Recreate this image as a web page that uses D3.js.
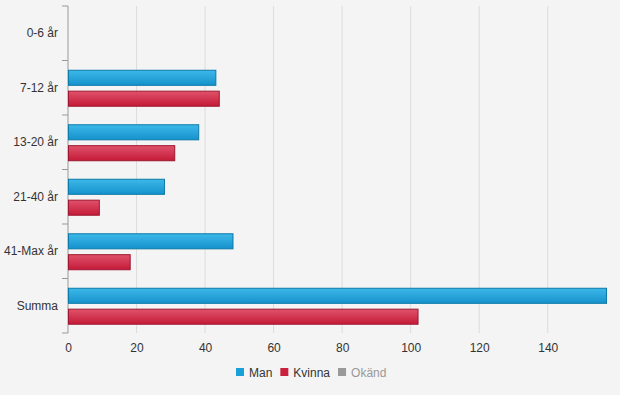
<!DOCTYPE html>
<html>
<head>
<meta charset="utf-8">
<script src="https://cdn.jsdelivr.net/npm/d3@7"></script>
<style>
  body { margin: 0; background: #f4f4f4; }
  svg { display: block; font-family: "Liberation Sans", Arial, sans-serif; }
</style>
</head>
<body>
<div id="chart"></div>
<script>
// chart data
const categories = ['0-6 år', '7-12 år', '13-20 år', '21-40 år', '41-Max år', 'Summa'];
const man = [0, 43, 38, 28, 48, 157];
const kvinna = [0, 44, 31, 9, 18, 102];
const xTicks = [0, 20, 40, 60, 80, 100, 120, 140];
const legendItems = ['Man', 'Kvinna', 'Okänd'];

const W = 620, H = 395;
const margin = {top: 6, right: 14, bottom: 62, left: 68};
const width = W - margin.left - margin.right;
const height = H - margin.top - margin.bottom;

const svg = d3.select('#chart').append('svg')
    .attr('width', W)
    .attr('height', H);

svg.append('rect').attr('width', W).attr('height', H).attr('fill', '#f4f4f4');

const defs = svg.append('defs');
function grad(id, top, bottom) {
    const lg = defs.append('linearGradient').attr('id', id)
        .attr('x1', 0).attr('y1', 0).attr('x2', 0).attr('y2', 1);
    lg.append('stop').attr('offset', '0%').attr('stop-color', top);
    lg.append('stop').attr('offset', '100%').attr('stop-color', bottom);
}
grad('gMan', '#3db8ea', '#1592cc');
grad('gKvinna', '#e0526b', '#c41a38');

const g = svg.append('g').attr('transform', `translate(${margin.left},${margin.top})`);

const x = d3.scaleLinear().domain([0, 157]).range([0, width]);
const y = d3.scaleBand().domain(categories).range([0, height]).paddingInner(0.34).paddingOuter(0.17);
const sub = d3.scaleBand().domain(['man', 'kvinna']).range([0, y.bandwidth()]).paddingInner(0.28);

// grid
g.append('g').selectAll('line').data(xTicks.slice(1)).enter().append('line')
    .attr('x1', d => x(d)).attr('x2', d => x(d))
    .attr('y1', 0).attr('y2', height)
    .attr('stroke', '#dcdcdc');

// x axis labels
const xAxis = g.append('g').attr('transform', `translate(0,${height})`)
    .call(d3.axisBottom(x).tickValues(xTicks).tickSize(0).tickPadding(10));
xAxis.select('.domain').remove();
xAxis.selectAll('text').attr('fill', '#333').attr('font-size', 12);

// y axis with ticks between categories
const yAxis = g.append('g');
yAxis.append('line').attr('x1', 0).attr('x2', 0).attr('y1', 0).attr('y2', height)
    .attr('stroke', '#999');
const edges = categories.map(c => y(c) - y.step() * 0.17).concat([height]);
yAxis.selectAll('.tk').data(edges).enter().append('line')
    .attr('x1', -6).attr('x2', 0)
    .attr('y1', d => d).attr('y2', d => d)
    .attr('stroke', '#999');
yAxis.selectAll('.lbl').data(categories).enter().append('text')
    .attr('x', -10)
    .attr('y', d => y(d) + y.bandwidth() / 2 + 4)
    .attr('text-anchor', 'end')
    .attr('font-size', 12)
    .attr('fill', '#333')
    .text(d => d);

// bars
g.append('g').selectAll('rect').data(categories).enter().append('rect')
    .filter((d, i) => man[i] > 0)
    .attr('x', 0.5).attr('y', d => y(d) + sub('man') + 0.5)
    .attr('width', d => x(man[categories.indexOf(d)]))
    .attr('height', sub.bandwidth())
    .attr('fill', 'url(#gMan)').attr('stroke', '#0d79a8');
g.append('g').selectAll('rect').data(categories).enter().append('rect')
    .filter((d, i) => kvinna[i] > 0)
    .attr('x', 0.5).attr('y', d => y(d) + sub('kvinna') + 0.5)
    .attr('width', d => x(kvinna[categories.indexOf(d)]))
    .attr('height', sub.bandwidth())
    .attr('fill', 'url(#gKvinna)').attr('stroke', '#9e1730');

// legend
const legendColors = ['#1a9fd8', '#c8203d', '#999'];
const textColors = ['#333', '#333', '#999'];
const legend = svg.append('g').attr('transform', 'translate(236,368)');
let lx = 0;
legendItems.forEach((name, i) => {
    const item = legend.append('g').attr('transform', `translate(${lx},0)`);
    item.append('rect').attr('width', 8).attr('height', 8).attr('fill', legendColors[i]);
    const t = item.append('text').attr('x', 13).attr('y', 8.5)
        .attr('font-size', 12).attr('fill', textColors[i]).text(name);
    lx += 13 + t.node().getComputedTextLength() + 8;
});
</script>
</body>
</html>
